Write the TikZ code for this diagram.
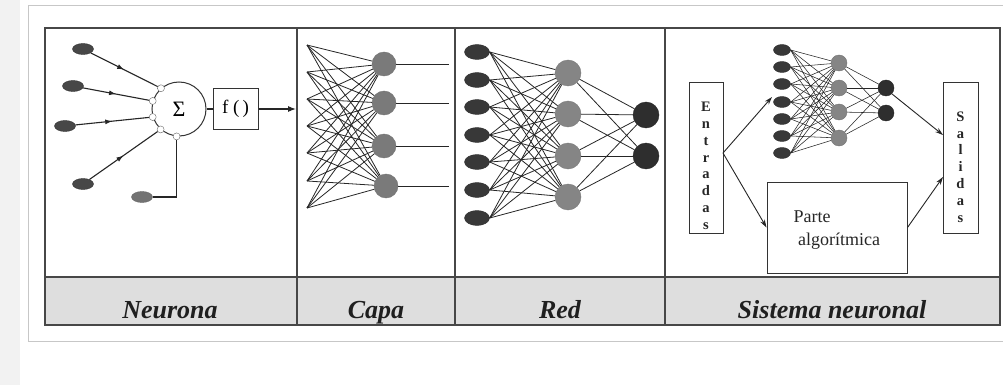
\documentclass[tikz,border=0pt]{standalone}
\usepackage{fontspec}
\setmainfont{Liberation Serif}
\usetikzlibrary{shapes.geometric,decorations.markings,arrows.meta}
\begin{document}
\begin{tikzpicture}[x=1pt,y=-1pt,
  frameline/.style={draw=black!72,line width=1.3pt},
  conn/.style={draw=black!85,line width=0.9pt},
  arr/.style={draw=black!85,line width=0.9pt,-{Stealth[length=8pt,width=5pt]}},
  midarrow/.style={postaction={decorate},decoration={markings,mark=at position 0.5 with {\arrow{Latex[length=7pt,width=5pt]}}}},
  inell/.style={ellipse,fill=black!72,draw=black!80,minimum width=21pt,minimum height=11pt,inner sep=0pt},
  biasell/.style={ellipse,fill=black!55,draw=black!60,minimum width=21pt,minimum height=11pt,inner sep=0pt},
  smallc/.style={circle,draw=black!60,fill=white,minimum size=7pt,inner sep=0pt},
  capan/.style={circle,fill=black!52,draw=black!55,minimum size=24pt,inner sep=0pt},
  redin/.style={ellipse,fill=black!78,draw=black!82,minimum width=25pt,minimum height=15pt,inner sep=0pt},
  redhid/.style={circle,fill=black!48,draw=black!52,minimum size=26pt,inner sep=0pt},
  redout/.style={circle,fill=black!82,draw=black!85,minimum size=26pt,inner sep=0pt},
  minin/.style={ellipse,fill=black!78,draw=black!82,minimum width=17pt,minimum height=11pt,inner sep=0pt},
  minhid/.style={circle,fill=black!48,draw=black!55,minimum size=16pt,inner sep=0pt},
  minout/.style={circle,fill=black!82,draw=black!85,minimum size=16pt,inner sep=0pt},
  plainbox/.style={draw=black!80,line width=1pt,inner sep=0pt},
  rowlabel/.style={font=\fontsize{26}{30}\selectfont\bfseries\itshape,text=black!88,anchor=base},
  vletters/.style={font=\fontsize{14.5}{16.8}\selectfont\bfseries,align=center,text=black!85,inner sep=0pt}
]
\clip (0,0) rectangle (1003,385);
\fill[white] (0,0) rectangle (1003,385);
\fill[black!5] (0,0) rectangle (20,385);
% outer faint frame
\draw[black!22,line width=1pt] (28,6) rectangle (1015,341);
% table
\fill[black!13] (45,277) rectangle (1000,325);
\draw[frameline] (45,28) rectangle (1000,325);
\draw[frameline] (45,277) -- (1000,277);
\foreach \xx in {297,455,665} { \draw[frameline] (\xx,28) -- (\xx,325); }
% labels
\node[rowlabel] (lab1) at (170,318) {Neurona};
\node[rowlabel] (lab2) at (376,318) {Capa};
\node[rowlabel] (lab3) at (560,318) {Red};
\node[rowlabel] (lab4) at (832,318) {Sistema neuronal};

% ---------- Panel 1: Neurona ----------
\node[circle,draw=black!80,line width=1pt,minimum size=54pt,inner sep=0pt,font=\fontsize{22}{22}\selectfont] (sum) at (179,109) {Σ};
\foreach \nm/\ang in {p1/131,p2/163,p3/197,p4/228,p5/265} {
  \node[smallc] (\nm) at (sum.\ang) {};
}
\node[inell] (e1) at (83,49) {};
\node[inell] (e2) at (73,86) {};
\node[inell] (e3) at (65,126) {};
\node[inell] (e4) at (83,184) {};
\node[biasell] (b) at (142,197) {};
\draw[conn,line width=1.1pt,midarrow] (e1) -- (p1);
\draw[conn,line width=1.1pt,midarrow] (e2) -- (p2);
\draw[conn,line width=1.1pt,midarrow] (e3) -- (p3);
\draw[conn,line width=1.1pt,midarrow] (e4) -- (p4);
\draw[conn,line width=1.1pt] (b.east) -| (p5.south);
\node[plainbox,minimum width=45pt,minimum height=40pt,font=\fontsize{19}{19}\selectfont] (f) at (235.5,109) {f (\,)};
\draw[conn,line width=1.1pt] (sum.east) -- (f.west);
\coordinate (fo) at (296,109);
\draw[conn,line width=1.1pt,-{Latex[length=8pt,width=6pt]}] (f.east) -- (fo);

% ---------- Panel 2: Capa ----------
\foreach \i/\yy in {1/45,2/72,3/99,4/126,5/153,6/181,7/208} {
  \coordinate (c\i) at (307,\yy);
}
\node[capan] (n1) at (384,64) {};
\node[capan] (n2) at (384,103) {};
\node[capan] (n3) at (384,146) {};
\node[capan] (n4) at (386,186) {};
\foreach \i in {1,...,7} { \foreach \j in {1,...,4} { \draw[conn,line width=0.8pt] (c\i) -- (n\j); } }
\foreach \j/\yy in {1/64,2/103,3/146,4/186} {
  \coordinate (o\j) at (449,\yy);
  \draw[conn] (n\j) -- (o\j);
}

% ---------- Panel 3: Red ----------
\foreach \i/\yy in {1/52,2/80,3/107,4/135,5/162,6/190,7/218} {
  \node[redin] (r\i) at (477,\yy) {};
}
\node[redhid] (h1) at (568,73) {};
\node[redhid] (h2) at (568,114) {};
\node[redhid] (h3) at (568,156) {};
\node[redhid] (h4) at (568,197) {};
\node[redout] (q1) at (646,115) {};
\node[redout] (q2) at (646,156) {};
\foreach \i in {1,...,7} { \foreach \j in {1,...,4} { \draw[conn,line width=0.8pt] (r\i.east) -- (h\j); } }
\foreach \j in {1,...,4} { \foreach \k in {1,2} { \draw[conn,line width=0.8pt] (h\j) -- (q\k); } }

% ---------- Panel 4: Sistema neuronal ----------
\node[plainbox,minimum width=34pt,minimum height=150pt] (ent) at (706,158) {};
\node[vletters,anchor=north] (entt) at (706,102) {E\\n\\t\\r\\a\\d\\a\\s};
\node[plainbox,minimum width=35pt,minimum height=150pt] (sal) at (960.5,158) {};
\node[vletters] (salt) at (960.5,167) {S\\a\\l\\i\\d\\a\\s};
\foreach \i/\yy in {1/50,2/67,3/84,4/102,5/119,6/136,7/153} {
  \node[minin] (m\i) at (782,\yy) {};
}
\node[minhid] (k1) at (839,63) {};
\node[minhid] (k2) at (839,88) {};
\node[minhid] (k3) at (839,112) {};
\node[minhid] (k4) at (839,138) {};
\node[minout] (u1) at (886,88) {};
\node[minout] (u2) at (886,113) {};
\foreach \i in {1,...,7} { \foreach \j in {1,...,4} { \draw[conn,line width=0.55pt] (m\i.east) -- (k\j); } }
\foreach \j in {1,...,4} { \foreach \k in {1,2} { \draw[conn,line width=0.55pt] (k\j) -- (u\k); } }
\node[plainbox,minimum width=140pt,minimum height=91pt] (par) at (837,227.5) {};
\node[anchor=base,font=\fontsize{18}{20}\selectfont,text=black!85] (part1) at (812,222) {Parte};
\node[anchor=base,font=\fontsize{18}{20}\selectfont,text=black!85] (part2) at (839,245) {algorítmica};
\coordinate (ea) at (723,153);
\coordinate (na) at (772,97);
\coordinate (sa1) at (943,135);
\coordinate (sa2) at (943,177);
\draw[arr] (ea) -- (na);
\draw[arr] (ea) -- (par.west);
\draw[arr] (u1.south east) -- (sa1);
\draw[arr] (par.east) -- (sa2);
\end{tikzpicture}
\end{document}
